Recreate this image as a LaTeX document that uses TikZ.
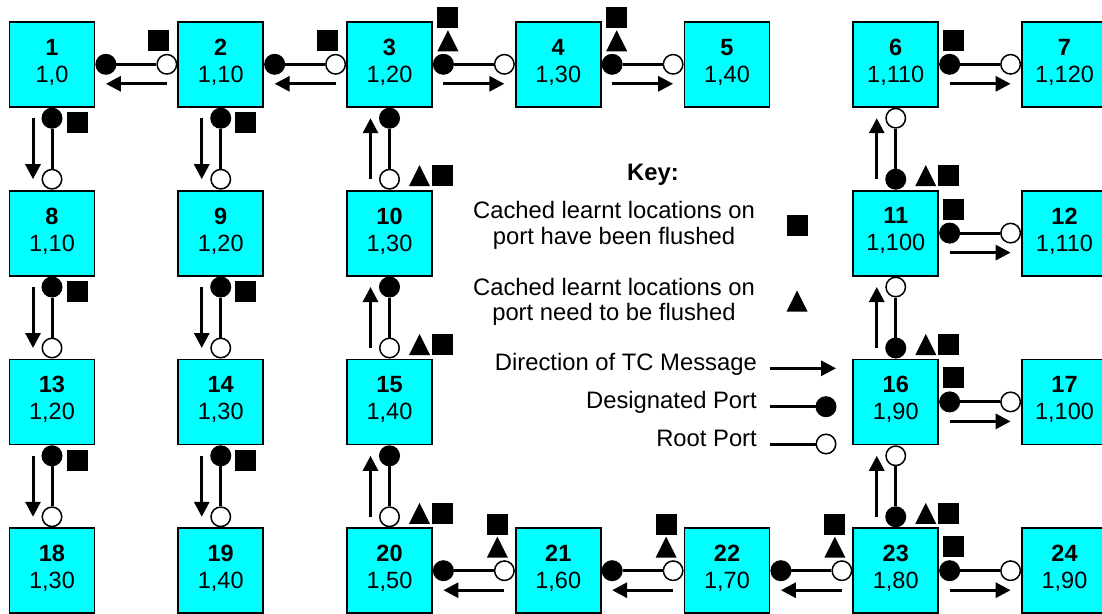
\documentclass[tikz,border=0pt]{standalone}
\usepackage{fontspec}
\setmainfont{Liberation Sans}
\usetikzlibrary{arrows.meta}
\definecolor{boxcyan}{RGB}{0,255,255}
\tikzset{
  box/.style={draw=black, line width=1.8pt, fill=boxcyan, minimum size=85pt, inner sep=0pt, align=center, font=\fontsize{23.5}{27}\selectfont},
  dp/.style={circle, draw=black, fill=black, line width=1.5pt, minimum size=19.5pt, inner sep=0pt},
  rp/.style={circle, draw=black, fill=white, line width=1.5pt, minimum size=19.5pt, inner sep=0pt},
  link/.style={line width=3pt},
  tc/.style={line width=3pt, -{Triangle[length=15pt,width=15pt]}},
  sqm/.pic={\fill (-10.5,-10.5) rectangle (10.5,10.5);},
  trm/.pic={\fill (-10.5,10.5) -- (10.5,10.5) -- (0,-10.5) -- cycle;},
  keytext/.style={font=\fontsize{23.8}{27}\selectfont, inner sep=0pt}
}
\newcommand\bx[2]{\textbf{#1}\\#2\rule[-7.5pt]{0pt}{7.5pt}}
\newcommand\HLink[4]{\node[#3,anchor=west] (#1e) at (#1.east) {}; \node[#4,anchor=east] (#2w) at (#2.west) {}; \draw[link] (#1e) -- (#2w);}
\newcommand\VLink[4]{\node[#3,anchor=north] (#1s) at (#1.south) {}; \node[#4,anchor=south] (#2n) at (#2.north) {}; \draw[link] (#1s) -- (#2n);}
\newcommand\HArr[2]{\draw[tc] ([yshift=-19.5pt]#1.center) -- ([yshift=-19.5pt]#2.center);}
\newcommand\VArr[2]{\draw[tc] ([xshift=-19pt]#1.center) -- ([xshift=-19pt]#2.center);}
\newcommand\SqL[1]{\pic at ([shift={(-19,-24)}]#1.west) {sqm};}
\newcommand\SqR[1]{\pic at ([shift={(14.5,-24)}]#1.east) {sqm};}
\newcommand\StL[1]{\pic at ([shift={(-17.5,-23.5)}]#1.west) {trm}; \pic at ([shift={(-17.5,-46)}]#1.west) {sqm};}
\newcommand\StR[1]{\pic at ([shift={(15,-23.5)}]#1.east) {trm}; \pic at ([shift={(15,-46.5)}]#1.east) {sqm};}
\newcommand\SqB[1]{\pic at ([shift={(25,15)}]#1.south) {sqm};}
\newcommand\StT[1]{\pic at ([shift={(30,-14)}]#1.north) {trm}; \pic at ([shift={(53,-14)}]#1.north) {sqm};}
\begin{document}
\begin{tikzpicture}[x=1pt,y=-1pt]
\clip (0,0) rectangle (1102,613);
% boxes
\node[box] (n1) at (52,64.3) {\bx{1}{1,0}};
\node[box] (n2) at (220.75,64.3) {\bx{2}{1,10}};
\node[box] (n3) at (389.5,64.3) {\bx{3}{1,20}};
\node[box] (n4) at (558.25,64.3) {\bx{4}{1,30}};
\node[box] (n5) at (727,64.3) {\bx{5}{1,40}};
\node[box] (n6) at (895.75,64.3) {\bx{6}{1,110}};
\node[box] (n7) at (1064.5,64.3) {\bx{7}{1,120}};
\node[box] (n8) at (52,233.1) {\bx{8}{1,10}};
\node[box] (n9) at (220.75,233.1) {\bx{9}{1,20}};
\node[box] (n10) at (389.5,233.1) {\bx{10}{1,30}};
\node[box] (n11) at (895.75,233.1) {\bx{11}{1,100}};
\node[box] (n12) at (1064.5,233.1) {\bx{12}{1,110}};
\node[box] (n13) at (52,401.9) {\bx{13}{1,20}};
\node[box] (n14) at (220.75,401.9) {\bx{14}{1,30}};
\node[box] (n15) at (389.5,401.9) {\bx{15}{1,40}};
\node[box] (n16) at (895.75,401.9) {\bx{16}{1,90}};
\node[box] (n17) at (1064.5,401.9) {\bx{17}{1,100}};
\node[box] (n18) at (52,570.7) {\bx{18}{1,30}};
\node[box] (n19) at (220.75,570.7) {\bx{19}{1,40}};
\node[box] (n20) at (389.5,570.7) {\bx{20}{1,50}};
\node[box] (n21) at (558.25,570.7) {\bx{21}{1,60}};
\node[box] (n22) at (727,570.7) {\bx{22}{1,70}};
\node[box] (n23) at (895.75,570.7) {\bx{23}{1,80}};
\node[box] (n24) at (1064.5,570.7) {\bx{24}{1,90}};
% horizontal links
\HLink{n1}{n2}{dp}{rp} \HArr{n2w}{n1e} \SqL{n2}
\HLink{n2}{n3}{dp}{rp} \HArr{n3w}{n2e} \SqL{n3}
\HLink{n3}{n4}{dp}{rp} \HArr{n3e}{n4w} \StR{n3}
\HLink{n4}{n5}{dp}{rp} \HArr{n4e}{n5w} \StR{n4}
\HLink{n6}{n7}{dp}{rp} \HArr{n6e}{n7w} \SqR{n6}
\HLink{n11}{n12}{dp}{rp} \HArr{n11e}{n12w} \SqR{n11}
\HLink{n16}{n17}{dp}{rp} \HArr{n16e}{n17w} \SqR{n16}
\HLink{n20}{n21}{dp}{rp} \HArr{n21w}{n20e} \StL{n21}
\HLink{n21}{n22}{dp}{rp} \HArr{n22w}{n21e} \StL{n22}
\HLink{n22}{n23}{dp}{rp} \HArr{n23w}{n22e} \StL{n23}
\HLink{n23}{n24}{dp}{rp} \HArr{n23e}{n24w} \SqR{n23}
% vertical links
\VLink{n1}{n8}{dp}{rp} \VArr{n1s}{n8n} \SqB{n1}
\VLink{n2}{n9}{dp}{rp} \VArr{n2s}{n9n} \SqB{n2}
\VLink{n8}{n13}{dp}{rp} \VArr{n8s}{n13n} \SqB{n8}
\VLink{n9}{n14}{dp}{rp} \VArr{n9s}{n14n} \SqB{n9}
\VLink{n13}{n18}{dp}{rp} \VArr{n13s}{n18n} \SqB{n13}
\VLink{n14}{n19}{dp}{rp} \VArr{n14s}{n19n} \SqB{n14}
\VLink{n3}{n10}{dp}{rp} \VArr{n10n}{n3s} \StT{n10}
\VLink{n10}{n15}{dp}{rp} \VArr{n15n}{n10s} \StT{n15}
\VLink{n15}{n20}{dp}{rp} \VArr{n20n}{n15s} \StT{n20}
\VLink{n6}{n11}{rp}{dp} \VArr{n11n}{n6s} \StT{n11}
\VLink{n11}{n16}{rp}{dp} \VArr{n16n}{n11s} \StT{n16}
\VLink{n16}{n23}{rp}{dp} \VArr{n23n}{n16s} \StT{n23}
% key
\node[keytext, font=\fontsize{23.8}{27}\selectfont\bfseries, anchor=base] (key) at (653,180) {Key:};
\node[keytext, anchor=base] (k1a) at (614,218) {Cached learnt locations on};
\node[keytext, anchor=base] (k1b) at (614,244) {port have been flushed};
\node[keytext, anchor=base] (k2a) at (614,295) {Cached learnt locations on};
\node[keytext, anchor=base] (k2b) at (614,320) {port need to be flushed};
\node[keytext, anchor=base east] (k3) at (757,370) {Direction of TC Message};
\node[keytext, anchor=base east] (k4) at (757,408) {Designated Port};
\node[keytext, anchor=base east] (k5) at (757,446.5) {Root Port};
\pic at (797,225) {sqm};
\pic at (797,301) {trm};
\coordinate (a1) at (770,368.3);
\coordinate (a2) at (836,368.3);
\draw[tc] (a1) -- (a2);
\node[dp] (kd) at (826,406.7) {};
\coordinate (d1) at (770,406.7);
\draw[link] (d1) -- (kd);
\node[rp] (kr) at (826,444) {};
\coordinate (r1) at (770,444);
\draw[link] (r1) -- (kr);
\end{tikzpicture}
\end{document}
